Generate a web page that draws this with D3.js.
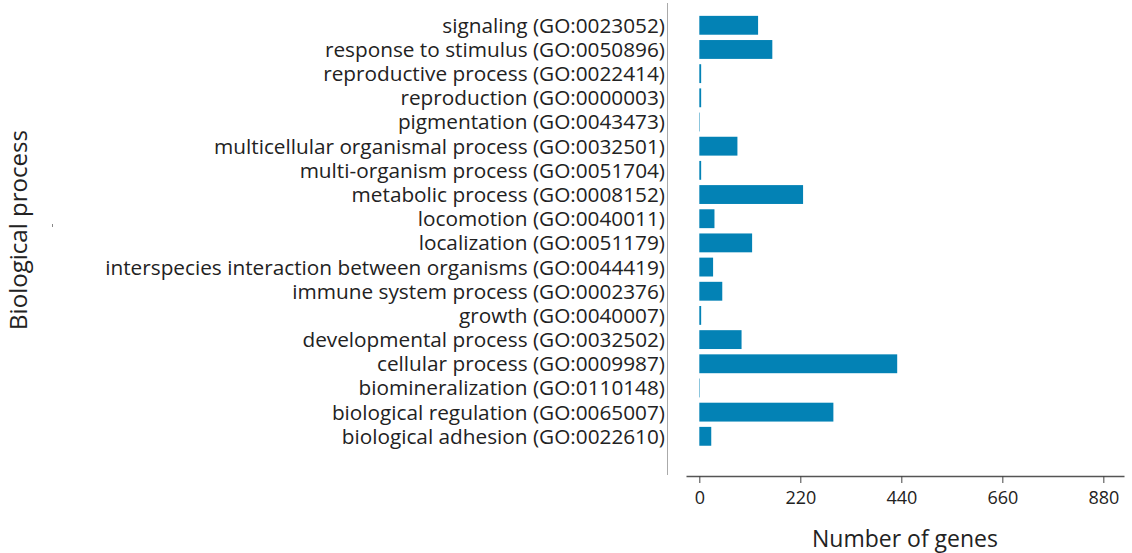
<!DOCTYPE html>
<html>
<head>
<meta charset="utf-8">
<script src="https://cdn.jsdelivr.net/npm/d3@7"></script>
<style>
  body { margin: 0; background: #fff; }
  svg text { font-family: "Open Sans", Lato, sans-serif; fill: #222; }
</style>
</head>
<body>
<div id="chart"></div>
<script>
// categories top to bottom
const categories = [
  'signaling (GO:0023052)',
  'response to stimulus (GO:0050896)',
  'reproductive process (GO:0022414)',
  'reproduction (GO:0000003)',
  'pigmentation (GO:0043473)',
  'multicellular organismal process (GO:0032501)',
  'multi-organism process (GO:0051704)',
  'metabolic process (GO:0008152)',
  'locomotion (GO:0040011)',
  'localization (GO:0051179)',
  'interspecies interaction between organisms (GO:0044419)',
  'immune system process (GO:0002376)',
  'growth (GO:0040007)',
  'developmental process (GO:0032502)',
  'cellular process (GO:0009987)',
  'biomineralization (GO:0110148)',
  'biological regulation (GO:0065007)',
  'biological adhesion (GO:0022610)'
];
const geneCounts = [128, 159, 4, 4, 1, 83, 4, 226, 33, 115, 30, 50, 4, 92, 431, 1, 292, 26];
const xTicks = [0, 220, 440, 660, 880];

const width = 1132, height = 553;
const svg = d3.select('#chart').append('svg')
  .attr('width', width)
  .attr('height', height);

const x = d3.scaleLinear().domain([-29, 925]).range([686, 1124]);
const y = d3.scaleBand()
  .domain(categories)
  .range([13.2, 448.4])
  .paddingInner(0.22)
  .paddingOuter(0.11);

// shrink/grow a text's font so it spans the wanted width
function fitWidth(sel, target) {
  const base = 18;
  sel.style('font-size', base + 'px');
  const w = sel.node().getComputedTextLength();
  const size = base * target / w;
  return size;
}

// bars
svg.selectAll('.bar')
  .data(categories)
  .enter()
  .append('rect')
  .attr('class', 'bar')
  .attr('x', x(0))
  .attr('y', d => y(d))
  .attr('width', (d, i) => x(geneCounts[i]) - x(0))
  .attr('height', y.bandwidth())
  .attr('fill', '#0382b5');

// category labels
const catLabels = svg.selectAll('.cat')
  .data(categories)
  .enter()
  .append('text')
  .attr('class', 'cat')
  .attr('x', 665)
  .attr('y', d => y(d) + y.bandwidth() / 2)
  .attr('dy', '0.36em')
  .attr('text-anchor', 'end')
  .text(d => d);
const longest = catLabels.filter(d => d.startsWith('interspecies'));
const catSize = fitWidth(longest, 560);
catLabels.style('font-size', catSize + 'px');

// vertical separator
svg.append('line')
  .attr('x1', 667.5).attr('x2', 667.5)
  .attr('y1', 3).attr('y2', 475)
  .attr('stroke', '#aaa')
  .attr('stroke-width', 1);

// x axis
const xAxis = svg.append('g')
  .attr('transform', 'translate(0,476)')
  .call(d3.axisBottom(x).tickValues(xTicks).tickSize(7).tickSizeOuter(0).tickPadding(8));
xAxis.select('.domain').attr('stroke', '#555').attr('stroke-width', 1.5);
xAxis.selectAll('.tick line').attr('stroke', '#444');
xAxis.selectAll('.tick text')
  .style('font-size', '18px')
  .style('font-family', '"Open Sans", Lato, sans-serif')
  .attr('fill', '#222');

// axis titles
const xTitle = svg.append('text')
  .attr('x', 905)
  .attr('y', 547)
  .attr('text-anchor', 'middle')
  .text('Number of genes');
xTitle.style('font-size', fitWidth(xTitle, 186) + 'px');

const yTitle = svg.append('text')
  .attr('transform', 'translate(27,230) rotate(-90)')
  .attr('text-anchor', 'middle')
  .text('Biological process');
yTitle.style('font-size', fitWidth(yTitle, 200) + 'px');

// tiny stray mark near the y title
svg.append('line')
  .attr('x1', 52.5).attr('x2', 52.5)
  .attr('y1', 224).attr('y2', 227)
  .attr('stroke', '#888');
</script>
</body>
</html>
